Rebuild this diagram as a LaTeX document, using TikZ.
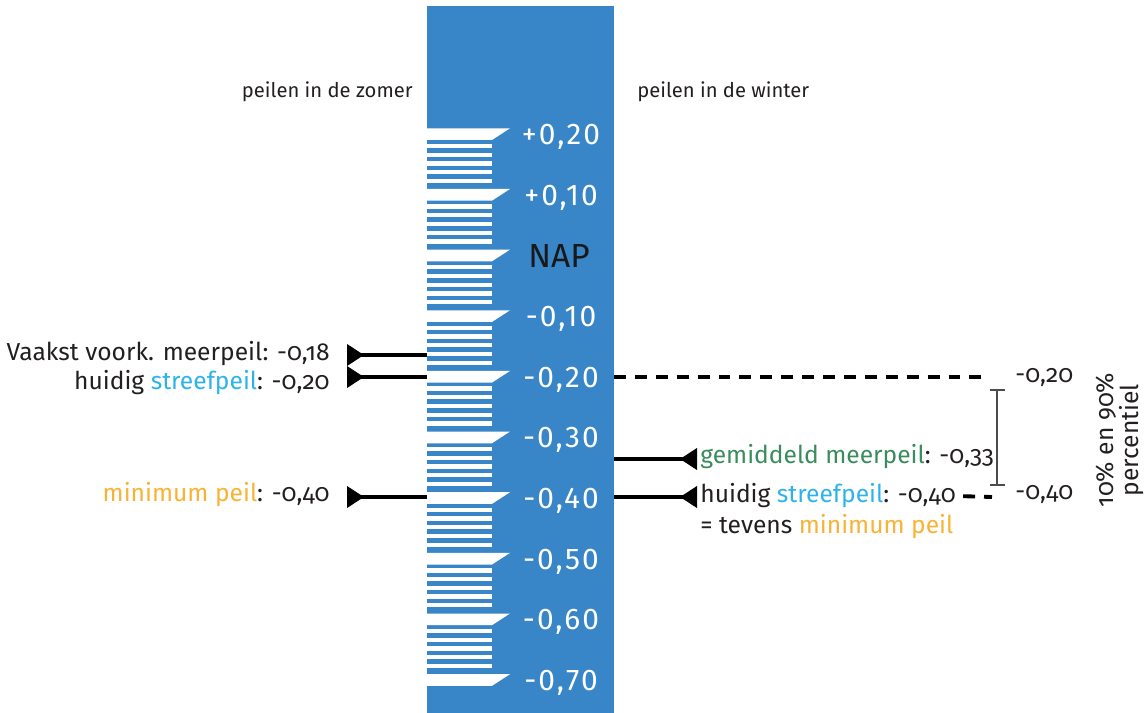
\documentclass[tikz,border=0pt]{standalone}
\usepackage{fontspec}
\setmainfont{Fira Sans}[Numbers=OldStyle]
\newfontfamily\schaalfont{Fira Sans}[Numbers=Lining, LetterSpace=7]
\usetikzlibrary{arrows.meta}

\definecolor{peilblauw}{HTML}{3886C8}
\definecolor{streefblauw}{HTML}{2DB3EC}
\definecolor{minoranje}{HTML}{F9B234}
\definecolor{gemgroen}{HTML}{3A8C5C}
\definecolor{tekst}{HTML}{231F20}

\begin{document}
\begin{tikzpicture}[x=0.02cm, y=-0.02cm, every node/.style={
    inner sep=0pt,
    text=tekst,
    font=\fontsize{14}{16}\selectfont,
  },
  schaal/.style={text=white, font=\schaalfont\fontsize{17}{19}\selectfont},
  pijl/.style={line width=2.2pt, draw=black,
    -{Triangle[reversed, length=0.34cm, width=0.42cm]}},
  streep/.style={line width=2.2pt, dash pattern=on 6.8pt off 5.1pt},
  haak/.style={line width=1.4pt, draw=black!70, {Bar[width=0.3cm]}-{Bar[width=0.3cm]}}]

  \useasboundingbox (0,0) rectangle (1146,713);

  % peilschaal
  \fill[peilblauw] (427,6) rectangle (614,713);
  \foreach \i in {0,...,8} {
    \foreach \k in {0,...,4} {
      \fill[white] (427,{128.3+60.65*\i+15.5+8.7*\k}) rectangle (491.5,{128.3+60.65*\i+19.8+8.7*\k});
    }
  }
  \foreach \i/\t in {0/{+0,20},1/{+0,10},2/{},3/{-0,10},4/{-0,20},5/{-0,30},6/{-0,40},7/{-0,50},8/{-0,60},9/{-0,70}} {
    \fill[white] (427,{128.3+60.65*\i}) -- (510,{128.3+60.65*\i}) -- (492,{140+60.65*\i}) -- (427,{140+60.65*\i}) -- cycle;
    \node[schaal] (s\i) at (561,{137+60.65*\i}) {\t};
  }
  \node[font=\fontsize{19}{21}\selectfont, text=black!90] (nap) at (559,256) {NAP};

  \node[anchor=east] (zomer) at (413,92) {\fontsize{11.5}{13}\selectfont peilen in de zomer};
  \node[anchor=west] (winter) at (637,92) {\fontsize{11.5}{13}\selectfont peilen in de winter};

  % zomer
  \node[anchor=east] (l1) at (330,354) {Vaakst voork. meerpeil: -0,18};
  \node[anchor=east] (l2) at (330,383) {huidig \textcolor{streefblauw}{streefpeil}: -0,20};
  \node[anchor=east] (l3) at (330,495) {\textcolor{minoranje}{minimum peil}: -0,40};

  \coordinate (g1) at (427,355);
  \coordinate (g2) at (427,377);
  \coordinate (g3) at (427,497);
  \coordinate (p1) at (347,355);
  \coordinate (p2) at (347,377);
  \coordinate (p3) at (347,497);

  \draw[pijl] (g1) -- (p1);
  \draw[pijl] (g2) -- (p2);
  \draw[pijl] (g3) -- (p3);

  % winter
  \node[anchor=west] (r1) at (700,457) {\textcolor{gemgroen}{gemiddeld meerpeil}: -0,33};
  \node[anchor=west] (r2) at (700,496) {huidig \textcolor{streefblauw}{streefpeil}: -0,40};
  \node[anchor=west] (r3) at (700,527) {= tevens \textcolor{minoranje}{minimum peil}};

  \coordinate (g4) at (614,377);
  \coordinate (g5) at (614,459);
  \coordinate (g6) at (614,497);
  \coordinate (p5) at (697,459);
  \coordinate (p6) at (697,497);
  \coordinate (d1) at (983,377);
  \coordinate (d2) at (992,497);

  \draw[pijl] (g5) -- (p5);
  \draw[pijl] (g6) -- (p6);
  \draw[streep] (g4) -- (d1);
  \draw[streep, shorten <=4pt] (r2.east) -- (d2);

  \node[anchor=west] (v1) at (1015,377) {-0,20};
  \node[anchor=west] (v2) at (1015,494) {-0,40};
  \coordinate (b1) at (997,389);
  \coordinate (b2) at (997,486);
  \draw[haak] (b1) -- (b2);

  \node[rotate=90, align=center, font=\fontsize{14}{14}\selectfont] (pct) at (1120,440) {10\% en 90\%\\percentiel};

\end{tikzpicture}
\end{document}
